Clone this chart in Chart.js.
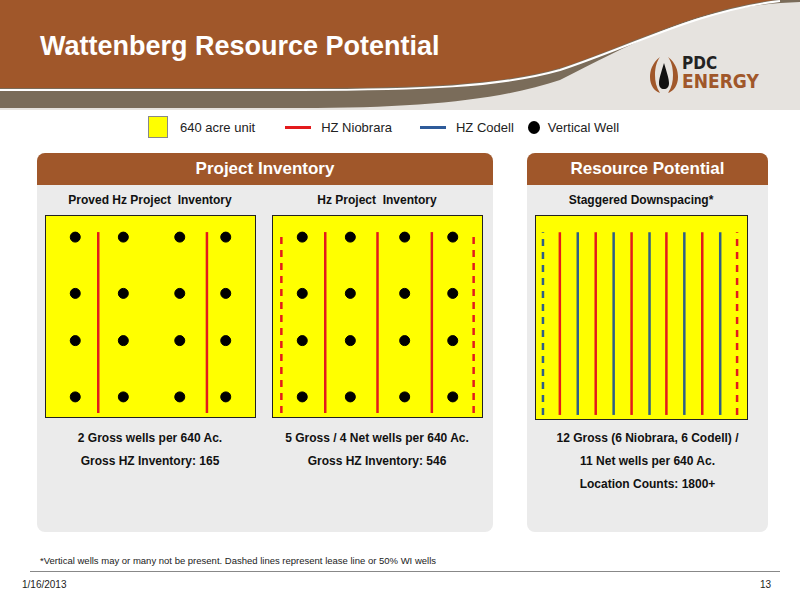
<!DOCTYPE html>
<html lang="en">
<head>
<meta charset="UTF-8" />
<title>Wattenberg Resource Potential</title>
<style>
  body { margin: 0; width: 800px; height: 600px; position: relative; background: #fff; font-family: "Liberation Sans", Arial, sans-serif; overflow: hidden; }
  .abs { position: absolute; }
  .title { left: 40px; top: 31px; color: #fff; font-size: 27px; font-weight: bold; }
  .legend { top: 116px; font-size: 13px; color: #222; display: flex; align-items: center; }
  .panel { background: #ebebeb; border-radius: 8px; }
  .phead { background: #a0572a; color: #fff; font-weight: bold; font-size: 17px; text-align: center; line-height: 32px; border-radius: 8px 8px 0 0; height: 32px; }
  .sub { font-weight: bold; font-size: 12px; color: #111; text-align: center; }
  .box { background: #ffff00; border: 1.5px solid #222; box-sizing: border-box; }
  .cap { font-weight: bold; font-size: 12px; color: #111; text-align: center; line-height: 23px; }
</style>
</head>
<body>
<svg class="abs" style="left:0;top:0" width="800" height="110">
  <rect x="0" y="0" width="800" height="110" fill="#e6e3df"/>
  <path d="M0,108 L0,0 L800,0 L800,2 C700,5 640,40 560,80 C500,100 420,108 300,108 Z" fill="#7a6c5a"/>
  <path d="M0,88 L0,0 L775,0 C700,8 630,45 560,68 C500,85 420,88 300,88 Z" fill="#a0572a"/>
  <path d="M0,90 L300,90 C420,90 500,87 560,70 C630,47 700,10 780,1" fill="none" stroke="#fff" stroke-width="2"/>
</svg>
<div class="abs title">Wattenberg Resource Potential</div>
<svg class="abs" style="left:648px;top:55px" width="32" height="40">
  <path d="M12,2 C4,8 2,16 2,22 C2,30 6,36 12,38 C8,32 7,26 7,20 C7,12 9,6 12,2 Z" fill="#a0572a"/>
  <path d="M20,2 C28,8 30,16 30,22 C30,30 26,36 20,38 C24,32 25,26 25,20 C25,12 23,6 20,2 Z" fill="#a0572a"/>
  <path d="M16,8 C13,18 11,24 11,28 C11,32 13,34 16,34 C19,34 21,32 21,28 C21,24 19,18 16,8 Z" fill="#111"/>
</svg>
<div class="abs" style="left:682px;top:56px;font-weight:bold;color:#222;font-size:17px;line-height:15px;font-family:'DejaVu Sans Condensed','Liberation Sans Narrow',sans-serif">PDC</div>
<div class="abs" style="left:682px;top:72px;font-weight:bold;color:#a0572a;font-size:19px;line-height:18px;font-family:'DejaVu Sans Condensed','Liberation Sans Narrow',sans-serif">ENERGY</div>

<div class="abs legend" style="left:148px">
  <span style="display:inline-block;width:18px;height:20px;background:#ffff00;border:1px solid #888;margin-right:12px"></span>640 acre unit
  <span style="display:inline-block;width:26px;height:3px;background:#e31a1c;margin:0 10px 0 30px"></span>HZ Niobrara
  <span style="display:inline-block;width:26px;height:3px;background:#2e5b9a;margin:0 10px 0 28px"></span>HZ Codell
  <span style="display:inline-block;width:12px;height:13px;border-radius:50%;background:#000;margin:0 8px 0 14px"></span>Vertical Well
</div>

<div class="abs panel" style="left:37px;top:153px;width:456px;height:379px">
  <div class="phead">Project Inventory</div>
</div>
<div class="abs panel" style="left:527px;top:153px;width:241px;height:379px">
  <div class="phead">Resource Potential</div>
</div>
<div class="abs sub" style="left:45px;top:193px;width:210px">Proved Hz Project&nbsp; Inventory</div>
<div class="abs sub" style="left:272px;top:193px;width:210px">Hz Project&nbsp; Inventory</div>
<div class="abs sub" style="left:535px;top:193px;width:212px">Staggered Downspacing*</div>

<div class="abs box" style="left:45px;top:215px;width:211px;height:203px"><canvas id="c1"></canvas></div>
<div class="abs box" style="left:272px;top:215px;width:211px;height:203px"><canvas id="c2"></canvas></div>
<div class="abs box" style="left:535px;top:215px;width:213px;height:205px"><canvas id="c3"></canvas></div>

<div class="abs cap" style="left:40px;top:427px;width:220px">2 Gross wells per 640 Ac.<br>Gross HZ Inventory: 165</div>
<div class="abs cap" style="left:262px;top:427px;width:230px">5 Gross / 4 Net wells per 640 Ac.<br>Gross HZ Inventory: 546</div>
<div class="abs cap" style="left:527px;top:427px;width:241px">12 Gross (6 Niobrara, 6 Codell) /<br>11 Net wells per 640 Ac.<br>Location Counts: 1800+</div>

<div class="abs" style="left:40px;top:555px;font-size:9.5px;color:#222">*Vertical wells may or many not be present. Dashed lines represent lease line or 50% WI wells</div>
<div class="abs" style="left:30px;top:571px;width:750px;height:1px;background:#888"></div>
<div class="abs" style="left:22px;top:579px;font-size:10px;color:#222">1/16/2013</div>
<div class="abs" style="left:760px;top:579px;font-size:10px;color:#222">13</div>

<script src="https://cdn.jsdelivr.net/npm/chart.js"></script>
<script>
  // positions inside each 640 acre unit, 0..1
  const wellRows = [0.895, 0.615, 0.38, 0.10];
  const lineTop = 0.92, lineBottom = 0.02;

  const wellCols1 = [0.14, 0.37, 0.64, 0.86];
  const niobrara1 = [0.25, 0.77];

  const wellCols2 = [0.14, 0.37, 0.63, 0.86];
  const niobrara2 = [0.25, 0.50, 0.76];
  const niobraraDashed2 = [0.04, 0.96];

  const niobrara3 = [0.113, 0.283, 0.453, 0.618, 0.788];
  const codell3 = [0.198, 0.368, 0.538, 0.703, 0.873];
  const niobraraDashed3 = [0.953];
  const codellDashed3 = [0.033];

  const RED = '#e31a1c', BLUE = '#2e5f86';

  const hzLines = (xs, color, dashed) => xs.map(x => ({
    type: 'line',
    data: [{ x, y: lineBottom }, { x, y: lineTop }],
    borderColor: color,
    borderWidth: 2.5,
    borderDash: dashed ? [7, 6] : [],
    pointRadius: 0,
  }));

  const wells = (cols) => ({
    type: 'scatter',
    data: cols.flatMap(x => wellRows.map(y => ({ x, y }))),
    backgroundColor: '#000',
    borderColor: '#000',
    pointRadius: 5,
  });

  const config = (datasets) => ({
    type: 'scatter',
    data: { datasets },
    options: {
      responsive: true,
      maintainAspectRatio: false,
      animation: false,
      layout: { padding: 0, autoPadding: false },
      plugins: { legend: { display: false }, tooltip: { enabled: false } },
      scales: {
        x: { type: 'linear', min: 0, max: 1, display: false },
        y: { type: 'linear', min: 0, max: 1, display: false },
      },
    },
  });

  new Chart(document.getElementById('c1'), config([
    ...hzLines(niobrara1, RED, false), wells(wellCols1)]));
  new Chart(document.getElementById('c2'), config([
    ...hzLines(niobrara2, RED, false), ...hzLines(niobraraDashed2, RED, true), wells(wellCols2)]));
  new Chart(document.getElementById('c3'), config([
    ...hzLines(niobrara3, RED, false), ...hzLines(codell3, BLUE, false),
    ...hzLines(niobraraDashed3, RED, true), ...hzLines(codellDashed3, BLUE, true)]));
</script>
</body>
</html>
